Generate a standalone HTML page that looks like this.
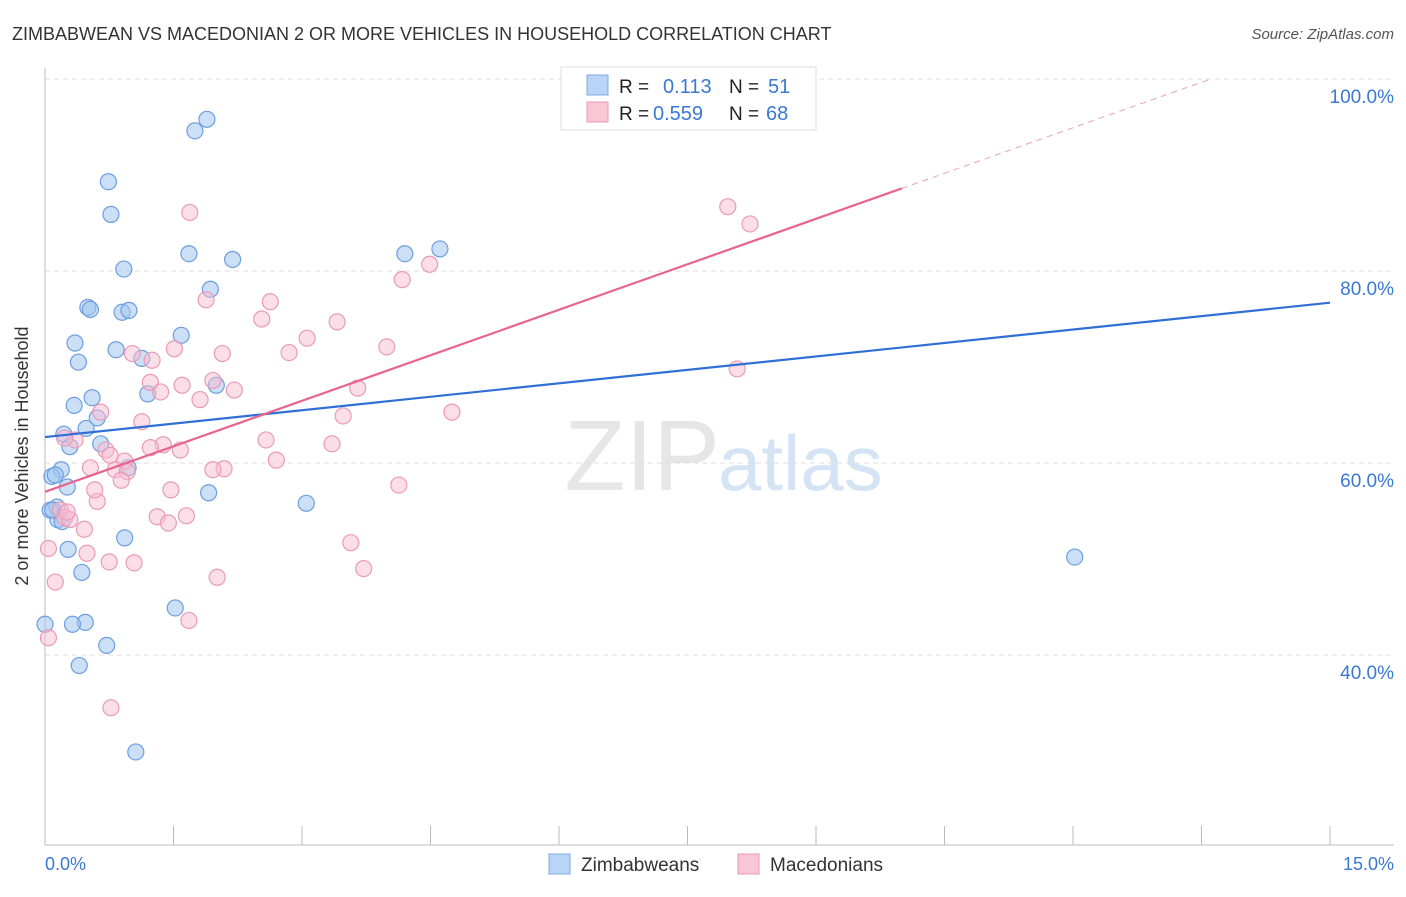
<!DOCTYPE html>
<html><head><meta charset="utf-8"><style>
body{margin:0;background:#fff;font-family:"Liberation Sans",sans-serif;}
svg text{font-family:"Liberation Sans",sans-serif;}
</style></head><body>
<svg id="chart" width="1406" height="892">
<text x="12" y="40" font-size="18" fill="#333">ZIMBABWEAN VS MACEDONIAN 2 OR MORE VEHICLES IN HOUSEHOLD CORRELATION CHART</text>
<text x="1394" y="39" font-size="15" fill="#555" font-style="italic" text-anchor="end">Source: ZipAtlas.com</text>
<text x="720" y="490" font-size="100" fill="#e6e6e6" text-anchor="end" font-family="Liberation Serif">ZIP</text>
<text x="718" y="490" font-size="78" fill="#d5e4f5">atlas</text>
<g id="grid"></g><g id="axes"></g><g id="pts"></g><g id="lines"></g>
<text x="28" y="456" font-size="18" fill="#333" text-anchor="middle" transform="rotate(-90 28 456)">2 or more Vehicles in Household</text>
<text x="45" y="870" font-size="18" fill="#3a78d4">0.0%</text>
<text x="1394" y="870" font-size="18" fill="#3a78d4" text-anchor="end">15.0%</text>
<g>
<rect x="561" y="67" width="255" height="63" fill="#fff" stroke="#ddd"/>
<rect x="587" y="75" width="21" height="20" fill="#b9d4f6" stroke="#7fa9e0"/>
<rect x="587" y="102" width="21" height="20" fill="#f9c6d6" stroke="#ec98b4"/>
<text x="619" y="93" font-size="19" fill="#222">R = </text><text x="663" y="93" font-size="20" fill="#3a78d4">0.113</text>
<text x="729" y="93" font-size="19" fill="#222">N = </text><text x="768" y="93" font-size="20" fill="#3a78d4">51</text>
<text x="619" y="120" font-size="19" fill="#222">R = </text><text x="653" y="120" font-size="20" fill="#3a78d4">0.559</text>
<text x="729" y="120" font-size="19" fill="#222">N = </text><text x="766" y="120" font-size="20" fill="#3a78d4">68</text>
</g>
<g>
<rect x="549" y="854" width="21" height="20" fill="#b9d4f6" stroke="#7fa9e0"/>
<text x="581" y="871" font-size="19" fill="#333">Zimbabweans</text>
<rect x="738" y="854" width="21" height="20" fill="#f9c6d6" stroke="#ec98b4"/>
<text x="770" y="871" font-size="19" fill="#333">Macedonians</text>
</g>
</svg>
<script>
const yTicks=[100,80,60,40];
const yTickLabels=["100.0%","80.0%","60.0%","40.0%"];
const xTicks=[0,1.5,3,4.5,6,7.5,9,10.5,12,13.5,15];
const blueX=[1.89,1.75,0.74,0.77,1.68,2.19,4.20,4.61,0.92,1.93,0.50,0.53,0.90,0.98,1.59,0.35,0.83,1.13,0.39,2.00,1.20,0.55,0.34,0.61,0.48,0.22,0.65,0.29,0.19,0.08,0.97,0.26,1.91,3.05,0.14,0.15,0.20,0.06,0.93,0.27,0.43,12.02,1.52,0.47,0.32,0.0,0.72,0.40,1.06,0.09,0.12];
const blueY=[95.8,94.6,89.3,85.9,81.8,81.2,81.8,82.3,80.2,78.1,76.2,76.0,75.7,75.9,73.3,72.5,71.8,70.9,70.5,68.1,67.2,66.8,66.0,64.7,63.6,63.0,62.0,61.7,59.3,58.6,59.5,57.5,56.9,55.8,55.4,54.1,53.9,55.1,52.2,51.0,48.6,50.2,44.9,43.4,43.2,43.2,41.0,38.9,29.9,55.1,58.75];
const pinkX=[1.69,7.97,8.23,4.49,4.17,2.63,1.88,2.53,3.41,3.06,1.51,3.99,1.02,2.07,1.25,2.85,1.23,1.60,1.35,2.21,3.65,1.81,8.08,0.65,4.75,1.13,3.48,2.58,0.35,1.38,1.58,3.35,0.71,2.70,0.93,0.53,2.09,0.82,0.96,0.89,4.13,1.47,0.61,0.18,1.65,1.31,0.23,1.44,0.29,0.46,3.57,0.49,0.75,1.04,3.72,2.01,0.12,1.68,0.04,0.77,0.04,0.26,0.58,0.23,1.23,1.96,0.76,1.96];
const pinkY=[86.1,86.7,84.9,80.7,79.1,76.8,77.0,75.0,74.7,73.0,71.9,72.1,71.4,71.4,70.7,71.5,68.4,68.1,67.4,67.6,67.8,66.6,69.8,65.3,65.3,64.3,64.9,62.4,62.4,61.9,61.35,62.0,61.35,60.3,60.2,59.5,59.4,59.3,59.1,58.2,57.7,57.2,56.0,55.1,54.5,54.4,54.3,53.75,54.1,53.1,51.7,50.6,49.7,49.6,49.0,48.1,47.6,43.6,41.8,34.5,51.1,54.9,57.2,62.6,61.6,68.6,60.8,59.3];
const blueFit=[62.7,76.7];
const pinkFit=[57.0,88.6];
const NS="http://www.w3.org/2000/svg";
const X=v=>45+v*(1285/15);
const Y=v=>79+(100-v)*9.6;
function mk(t,a,p){const e=document.createElementNS(NS,t);for(const k in a)e.setAttribute(k,a[k]);document.getElementById(p).appendChild(e);return e;}
yTicks.forEach((t,i)=>{
 const g=mk('line',{x1:45,x2:1394,y1:Y(t),y2:Y(t),stroke:'#ddd','stroke-dasharray':'5,4'},'grid');
 
 
 const l=mk('text',{x:1394,y:Y(t)+24,'font-size':19,fill:'#3a78d4','text-anchor':'end'},'axes');
 l.textContent=yTickLabels[i];
 
 
});
const ax=mk('line',{x1:45,x2:45,y1:68,y2:845,stroke:'#bbb'},'axes');


const bx=mk('line',{x1:45,x2:1394,y1:845,y2:845,stroke:'#bbb'},'axes');


xTicks.forEach(t=>{
 const k=mk('line',{x1:X(t),x2:X(t),y1:826,y2:845,stroke:'#bbb'},'axes');
 
 
});
blueX.forEach((v,i)=>{
 const c=mk('circle',{cx:X(v),cy:Y(blueY[i]),r:8,fill:'rgba(160,196,240,0.55)',stroke:'#6c9ee0','stroke-width':1.2},'pts');
 
 
});
pinkX.forEach((v,i)=>{
 const c=mk('circle',{cx:X(v),cy:Y(pinkY[i]),r:8,fill:'rgba(248,190,210,0.5)',stroke:'#ea9ab6','stroke-width':1.2},'pts');
 
 
});
const bl=mk('line',{x1:X(0),y1:Y(blueFit[0]),x2:X(15),y2:Y(blueFit[1]),stroke:'#2f6fd6','stroke-width':2.2},'lines');


const slope=(pinkFit[1]-pinkFit[0])/10;
const pl=mk('line',{x1:X(0),y1:Y(pinkFit[0]),x2:X(10),y2:Y(pinkFit[1]),stroke:'#e8638f','stroke-width':2.2},'lines');


const xe=(100-pinkFit[0])/slope;
const pd=mk('line',{x1:X(10),y1:Y(pinkFit[1]),x2:X(xe),y2:Y(100),stroke:'#eba0b8','stroke-width':1,'stroke-dasharray':'6,5'},'lines');


</script>
</body></html>
